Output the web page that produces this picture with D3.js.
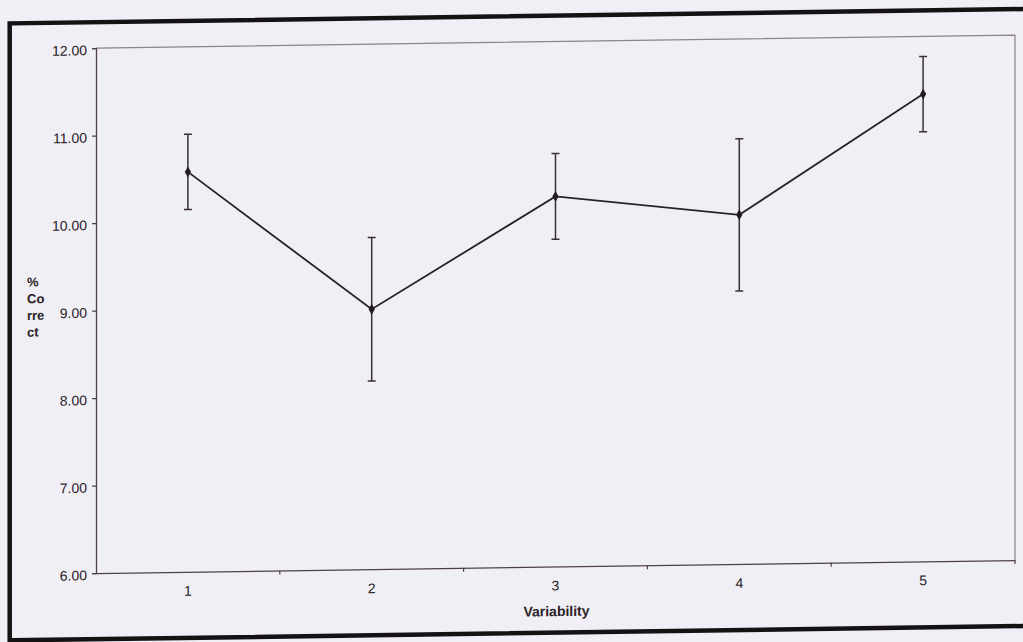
<!DOCTYPE html>
<html>
<head>
<meta charset="utf-8">
<script src="https://cdn.jsdelivr.net/npm/d3@7"></script>
<style>
  html, body { margin: 0; padding: 0; background: #f0eff5; }
  svg { display: block; }
  text { font-family: "Liberation Sans", Arial, sans-serif; fill: #2a2226; }
</style>
</head>
<body>
<svg id="chart" width="1023" height="642"></svg>
<script>
// Mean % correct per variability level, with error half-widths
const categories = ["1", "2", "3", "4", "5"];
const means = [10.57, 8.97, 10.23, 9.99, 11.34];
const errors = [0.43, 0.82, 0.49, 0.87, 0.43];
const yTicks = [6, 7, 8, 9, 10, 11, 12];
const yDomain = [6, 12];
const yTitleLines = ["%", "Co", "rre", "ct"];
const xTitle = "Variability";

const svg = d3.select("#chart");
const W = 1023, H = 642;

// Whole sheet sits on a slight slant
const root = svg.append("g").attr("transform", "skewY(-0.81)");

// Outer frame of the sheet
root.append("rect")
  .attr("x", 9.7).attr("y", 23.5)
  .attr("width", 1040).attr("height", 617)
  .attr("fill", "none")
  .attr("stroke", "#161214")
  .attr("stroke-width", 4.5);

const plot = { left: 96, right: 1015, top: 49.4, bottom: 574.4 };

const x = d3.scaleBand().domain(categories).range([plot.left, plot.right]).padding(0);
const y = d3.scaleLinear().domain(yDomain).range([plot.bottom, plot.top]);
const cx = d => x(d) + x.bandwidth() / 2;

// Top and right frame lines of the plot area
root.append("path")
  .attr("d", `M${plot.left},${plot.top}H${plot.right}V${plot.bottom}`)
  .attr("fill", "none")
  .attr("stroke", "#8d8389")
  .attr("stroke-width", 1.2);

// Y axis
const yAxis = root.append("g")
  .attr("transform", `translate(${plot.left},0)`)
  .call(d3.axisLeft(y).tickValues(yTicks).tickFormat(d3.format(".2f")).tickSize(4).tickPadding(5));
yAxis.select(".domain").attr("stroke", "#4f4047").attr("stroke-width", 1.3);
yAxis.selectAll(".tick line").attr("stroke", "#4f4047").attr("stroke-width", 1.2);
yAxis.selectAll(".tick text")
  .attr("font-size", 14)
  .attr("dy", "0.47em")
  .style("font-family", '"Liberation Sans", Arial, sans-serif')
  .attr("fill", "#2a2226");

// X axis: labels centred in each band, ticks at the band edges
const xAxis = root.append("g")
  .attr("transform", `translate(0,${plot.bottom})`)
  .call(d3.axisBottom(x).tickSize(0).tickPadding(14).tickSizeOuter(0));
xAxis.select(".domain").attr("stroke", "#4f4047").attr("stroke-width", 1.3);
xAxis.selectAll(".tick text")
  .attr("font-size", 14)
  .style("font-family", '"Liberation Sans", Arial, sans-serif')
  .attr("fill", "#2a2226");

const edges = categories.slice(1).map(c => x(c)).concat([plot.right]);
xAxis.selectAll("line.edge")
  .data(edges)
  .join("line")
  .attr("class", "edge")
  .attr("x1", d => d).attr("x2", d => d)
  .attr("y1", 0).attr("y2", 4)
  .attr("stroke", "#4f4047")
  .attr("stroke-width", 1.2);

// Axis titles
root.append("text")
  .attr("x", (plot.left + plot.right) / 2 + 1)
  .attr("y", 624)
  .attr("text-anchor", "middle")
  .attr("font-size", 14)
  .attr("font-weight", "bold")
  .text(xTitle);

root.append("g")
  .selectAll("text")
  .data(yTitleLines)
  .join("text")
  .attr("x", 27)
  .attr("y", (d, i) => 287 + i * 16.7)
  .attr("font-size", 13)
  .attr("font-weight", "bold")
  .text(d => d);

const data = categories.map((c, i) => ({ c, m: means[i], e: errors[i] }));

// Error bars
const bars = root.append("g").attr("stroke", "#3a2f35").attr("stroke-width", 1.5);
bars.selectAll("line.stem")
  .data(data).join("line")
  .attr("class", "stem")
  .attr("x1", d => cx(d.c)).attr("x2", d => cx(d.c))
  .attr("y1", d => y(d.m + d.e)).attr("y2", d => y(d.m - d.e));
bars.selectAll("line.capTop")
  .data(data).join("line")
  .attr("class", "capTop")
  .attr("x1", d => cx(d.c) - 4).attr("x2", d => cx(d.c) + 4)
  .attr("y1", d => y(d.m + d.e)).attr("y2", d => y(d.m + d.e));
bars.selectAll("line.capBot")
  .data(data).join("line")
  .attr("class", "capBot")
  .attr("x1", d => cx(d.c) - 4).attr("x2", d => cx(d.c) + 4)
  .attr("y1", d => y(d.m - d.e)).attr("y2", d => y(d.m - d.e));

// Mean line
root.append("path")
  .datum(data)
  .attr("fill", "none")
  .attr("stroke", "#2a2226")
  .attr("stroke-width", 1.8)
  .attr("d", d3.line().x(d => cx(d.c)).y(d => y(d.m)));

// Markers
root.append("g")
  .selectAll("path")
  .data(data)
  .join("path")
  .attr("transform", d => `translate(${cx(d.c)},${y(d.m)})`)
  .attr("d", d3.symbol().type(d3.symbolDiamond).size(34))
  .attr("fill", "#231c20");
</script>
</body>
</html>
